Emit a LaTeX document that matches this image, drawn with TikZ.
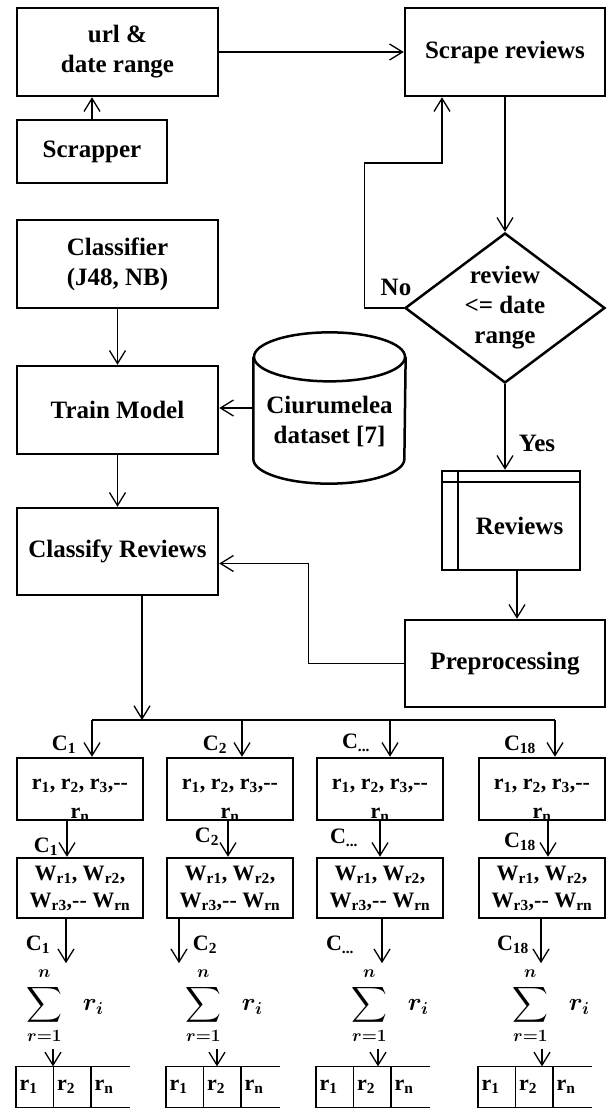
\documentclass[tikz,border=0pt]{standalone}
\usepackage{amsmath}
\usepackage{fontspec}
\setmainfont{Liberation Serif}
\usetikzlibrary{shapes.geometric,arrows.meta}

\begin{document}
\begin{tikzpicture}[x=1pt, y=-1pt, line width=1.3pt,
    >={Straight Barb[length=13pt,width=16pt]},
    box/.style={draw, rectangle, line width=2.5pt, inner sep=0pt, align=center,
        font=\fontsize{25}{30}\selectfont\bfseries},
    colbox/.style={box, minimum width=126pt, font=\fontsize{22}{29}\selectfont\bfseries},
    decision/.style={diamond, draw, line width=2.5pt, aspect=1.33, inner sep=0pt,
        minimum width=200pt, minimum height=150pt, align=center,
        font=\fontsize{25}{30}\selectfont\bfseries},
    dbase/.style={rectangle, minimum width=151pt, minimum height=150pt, inner sep=0pt,
        align=center, font=\fontsize{25}{30}\selectfont\bfseries},
    lbl/.style={inner sep=0pt, font=\fontsize{25}{30}\selectfont\bfseries},
    clbl/.style={inner sep=0pt, font=\fontsize{22}{26}\selectfont\bfseries},
    sumnode/.style={inner xsep=2pt, inner ysep=4pt, font=\fontsize{24}{28}\selectfont\boldmath},
    arrcell/.style={anchor=west, text width=31.5pt, align=left, minimum height=40pt,
        inner xsep=3pt, inner ysep=0pt, font=\fontsize{22}{26}\selectfont\bfseries}]
    \useasboundingbox (0,0) rectangle (606,1108);

    % Scraping
    \node[box, minimum width=201pt, minimum height=88pt] (url) at (117.5,52) {url \&\\date range};
    \node[box, minimum width=200pt, minimum height=88pt] (scrape) at (505,52) {Scrape reviews};
    \node[box, minimum width=150pt, minimum height=63pt] (scrapper) at (92,151.5) {Scrapper};
    \node[decision] (check) at (505,308) {review\\<= date\\range};
    \node[lbl] (no) at (396,287) {No};
    \node[lbl] (yes) at (537,443) {Yes};
    \node[box, minimum width=138pt, minimum height=99pt] (rev) at (511,520.5) {\rule{0pt}{29pt}\hspace*{17pt}Reviews};
    \node[box, minimum width=200pt, minimum height=87pt] (prep) at (505,663.5) {Preprocessing};
    \coordinate (bend) at (442,163);

    % Training
    \node[box, minimum width=201pt, minimum height=88pt] (clf) at (117.5,264) {Classifier\\(J48, NB)};
    \node[box, minimum width=201pt, minimum height=88pt] (train) at (117.5,410) {Train Model};
    \node[dbase] (data) at (329.5,408) {\rule{0pt}{45pt}Ciurumelea\\dataset [7]};
    \node[box, minimum width=201pt, minimum height=87pt] (classify) at (117.5,551.5) {Classify Reviews};
    \coordinate (bus) at (142,720);

    % Dataset cylinder
    \draw[line width=2.5pt] ([yshift=-24.5pt]data.north west) -- ([yshift=24.5pt]data.south west)
        arc[start angle=180, end angle=0, x radius=75.5, y radius=24.5] -- ([yshift=-24.5pt]data.north east);
    \draw[line width=2.5pt] ([yshift=-24.5pt]data.north) ellipse[x radius=75.5, y radius=24.5];

    % Reviews per class
    \node[colbox, minimum height=62pt] (r1) at (80,789) {\rule{0pt}{30pt}r\textsubscript{1}, r\textsubscript{2}, r\textsubscript{3},-{}-\\\smash{r\textsubscript{n}}};
    \node[colbox, minimum height=62pt] (r2) at (230,789) {\rule{0pt}{30pt}r\textsubscript{1}, r\textsubscript{2}, r\textsubscript{3},-{}-\\\smash{r\textsubscript{n}}};
    \node[colbox, minimum height=62pt] (r3) at (380,789) {\rule{0pt}{30pt}r\textsubscript{1}, r\textsubscript{2}, r\textsubscript{3},-{}-\\\smash{r\textsubscript{n}}};
    \node[colbox, minimum height=62pt] (r4) at (542,789) {\rule{0pt}{30pt}r\textsubscript{1}, r\textsubscript{2}, r\textsubscript{3},-{}-\\\smash{r\textsubscript{n}}};

    % Weights
    \node[colbox, minimum height=60pt, font=\fontsize{22}{27}\selectfont\bfseries] (w1) at (80,888) {W\textsubscript{r1}, W\textsubscript{r2},\\W\textsubscript{r3},-{}- W\textsubscript{rn}};
    \node[colbox, minimum height=60pt, font=\fontsize{22}{27}\selectfont\bfseries] (w2) at (230,888) {W\textsubscript{r1}, W\textsubscript{r2},\\W\textsubscript{r3},-{}- W\textsubscript{rn}};
    \node[colbox, minimum height=60pt, font=\fontsize{22}{27}\selectfont\bfseries] (w3) at (380,888) {W\textsubscript{r1}, W\textsubscript{r2},\\W\textsubscript{r3},-{}- W\textsubscript{rn}};
    \node[colbox, minimum height=60pt, font=\fontsize{22}{27}\selectfont\bfseries] (w4) at (542,888) {W\textsubscript{r1}, W\textsubscript{r2},\\W\textsubscript{r3},-{}- W\textsubscript{rn}};

    % Sums
    \node[sumnode] (s1) at (65,1006) {$\displaystyle\sum_{\rule{0pt}{13pt}\boldsymbol{r=1}}^{\boldsymbol{n}\rule[-4pt]{0pt}{4pt}}\;\;\boldsymbol{r_i}$};
    \node[sumnode] (s2) at (224,1006) {$\displaystyle\sum_{\rule{0pt}{13pt}\boldsymbol{r=1}}^{\boldsymbol{n}\rule[-4pt]{0pt}{4pt}}\;\;\boldsymbol{r_i}$};
    \node[sumnode] (s3) at (390,1006) {$\displaystyle\sum_{\rule{0pt}{13pt}\boldsymbol{r=1}}^{\boldsymbol{n}\rule[-4pt]{0pt}{4pt}}\;\;\boldsymbol{r_i}$};
    \node[sumnode] (s4) at (551,1006) {$\displaystyle\sum_{\rule{0pt}{13pt}\boldsymbol{r=1}}^{\boldsymbol{n}\rule[-4pt]{0pt}{4pt}}\;\;\boldsymbol{r_i}$};

    % Class labels
    \node[clbl] (c11) at (64,745) {C\textsubscript{1}};
    \node[clbl] (c12) at (215,745) {C\textsubscript{2}};
    \node[clbl] (c13) at (356,743) {C\textsubscript{...}};
    \node[clbl] (c14) at (520,745) {C\textsubscript{18}};
    \node[clbl] (c21) at (46,847) {C\textsubscript{1}};
    \node[clbl] (c22) at (207,837) {C\textsubscript{2}};
    \node[clbl] (c23) at (344,838) {C\textsubscript{...}};
    \node[clbl] (c24) at (520,842) {C\textsubscript{18}};
    \node[clbl] (c31) at (38,945) {C\textsubscript{1}};
    \node[clbl] (c32) at (205,945) {C\textsubscript{2}};
    \node[clbl] (c33) at (340,945) {C\textsubscript{...}};
    \node[clbl] (c34) at (513,945) {C\textsubscript{18}};

    % Ranked arrays
    \node[arrcell] (a11) at (16,1087) {r\textsubscript{1}};
    \node[arrcell] (a12) at (53.5,1087) {r\textsubscript{2}};
    \node[arrcell] (a13) at (91,1087) {r\textsubscript{n}};
    \node[arrcell] (a21) at (166,1087) {r\textsubscript{1}};
    \node[arrcell] (a22) at (203.5,1087) {r\textsubscript{2}};
    \node[arrcell] (a23) at (241,1087) {r\textsubscript{n}};
    \node[arrcell] (a31) at (316,1087) {r\textsubscript{1}};
    \node[arrcell] (a32) at (353.5,1087) {r\textsubscript{2}};
    \node[arrcell] (a33) at (391,1087) {r\textsubscript{n}};
    \node[arrcell] (a41) at (478,1087) {r\textsubscript{1}};
    \node[arrcell] (a42) at (515.5,1087) {r\textsubscript{2}};
    \node[arrcell] (a43) at (553,1087) {r\textsubscript{n}};
    \draw (a13.north east) -- (a11.north west) -- (a11.south west) -- (a13.south east);
    \draw (a12.north west) -- (a12.south west) (a13.north west) -- (a13.south west);
    \draw (a23.north east) -- (a21.north west) -- (a21.south west) -- (a23.south east);
    \draw (a22.north west) -- (a22.south west) (a23.north west) -- (a23.south west);
    \draw (a33.north east) -- (a31.north west) -- (a31.south west) -- (a33.south east);
    \draw (a32.north west) -- (a32.south west) (a33.north west) -- (a33.south west);
    \draw (a43.north east) -- (a41.north west) -- (a41.south west) -- (a43.south east);
    \draw (a42.north west) -- (a42.south west) (a43.north west) -- (a43.south west);

    % Reviews box inner lines
    \draw[line width=2.5pt] ([yshift=-12pt]rev.north west) -- ([yshift=-12pt]rev.north east);
    \draw[line width=2.5pt] ([xshift=17pt]rev.north west) -- ([xshift=17pt]rev.south west);

    % Connections
    \draw[->] (url) -- (scrape);
    \draw[->] (scrapper.north) -- (scrapper.north |- url.south);
    \draw[->] (scrape) -- (check);
    \draw[->] (check.west) -- ++(-39,0) |- (bend) -- (bend |- scrape.south);
    \draw[->] (check.south) -- (check.south |- rev.north);
    \draw[->] ([xshift=6pt]rev.south) -- ([xshift=6pt]rev.south |- prep.north);
    \draw[->] (prep.west) -- ++(-95,0) |- ([yshift=-12pt]classify.east);
    \draw[->] (clf) -- (train);
    \draw[->] (data.west) -- (data.west -| train.east);
    \draw[->] (train) -- (classify);
    \draw[->] (bus |- classify.south) -- (bus);
    \draw ([xshift=12pt]r1.north |- bus) -- ([xshift=13pt]r4.north |- bus);
    \draw[->] ([xshift=12pt]r1.north |- bus) -- ([xshift=12pt]r1.north);
    \draw[->] ([xshift=12pt]r2.north |- bus) -- ([xshift=12pt]r2.north);
    \draw[->] ([xshift=10pt]r3.north |- bus) -- ([xshift=10pt]r3.north);
    \draw[->] ([xshift=13pt]r4.north |- bus) -- ([xshift=13pt]r4.north);
    \draw[->] ([xshift=-13pt]r1.south) -- ([xshift=-13pt]r1.south |- w1.north);
    \draw[->] ([xshift=-2pt]r2.south) -- ([xshift=-2pt]r2.south |- w2.north);
    \draw[->] (r3.south) -- (r3.south |- w3.north);
    \draw[->] ([xshift=6pt]r4.south) -- ([xshift=6pt]r4.south |- w4.north);
    \draw[->] ([xshift=-14pt]w1.south) -- ([xshift=-14pt]w1.south |- s1.north);
    \draw[->] ([xshift=-51pt]w2.south) -- ([xshift=-51pt]w2.south |- s2.north);
    \draw[->] ([xshift=2pt]w3.south) -- ([xshift=2pt]w3.south |- s3.north);
    \draw[->] ([xshift=-1pt]w4.south) -- ([xshift=-1pt]w4.south |- s4.north);
    \draw[->] ([xshift=-12pt]s1.south) -- ([xshift=-12pt]s1.south |- a11.north);
    \draw[->] ([xshift=-7pt]s2.south) -- ([xshift=-7pt]s2.south |- a21.north);
    \draw[->] ([xshift=-12pt]s3.south) -- ([xshift=-12pt]s3.south |- a31.north);
    \draw[->] ([xshift=-9pt]s4.south) -- ([xshift=-9pt]s4.south |- a41.north);
\end{tikzpicture}
\end{document}
